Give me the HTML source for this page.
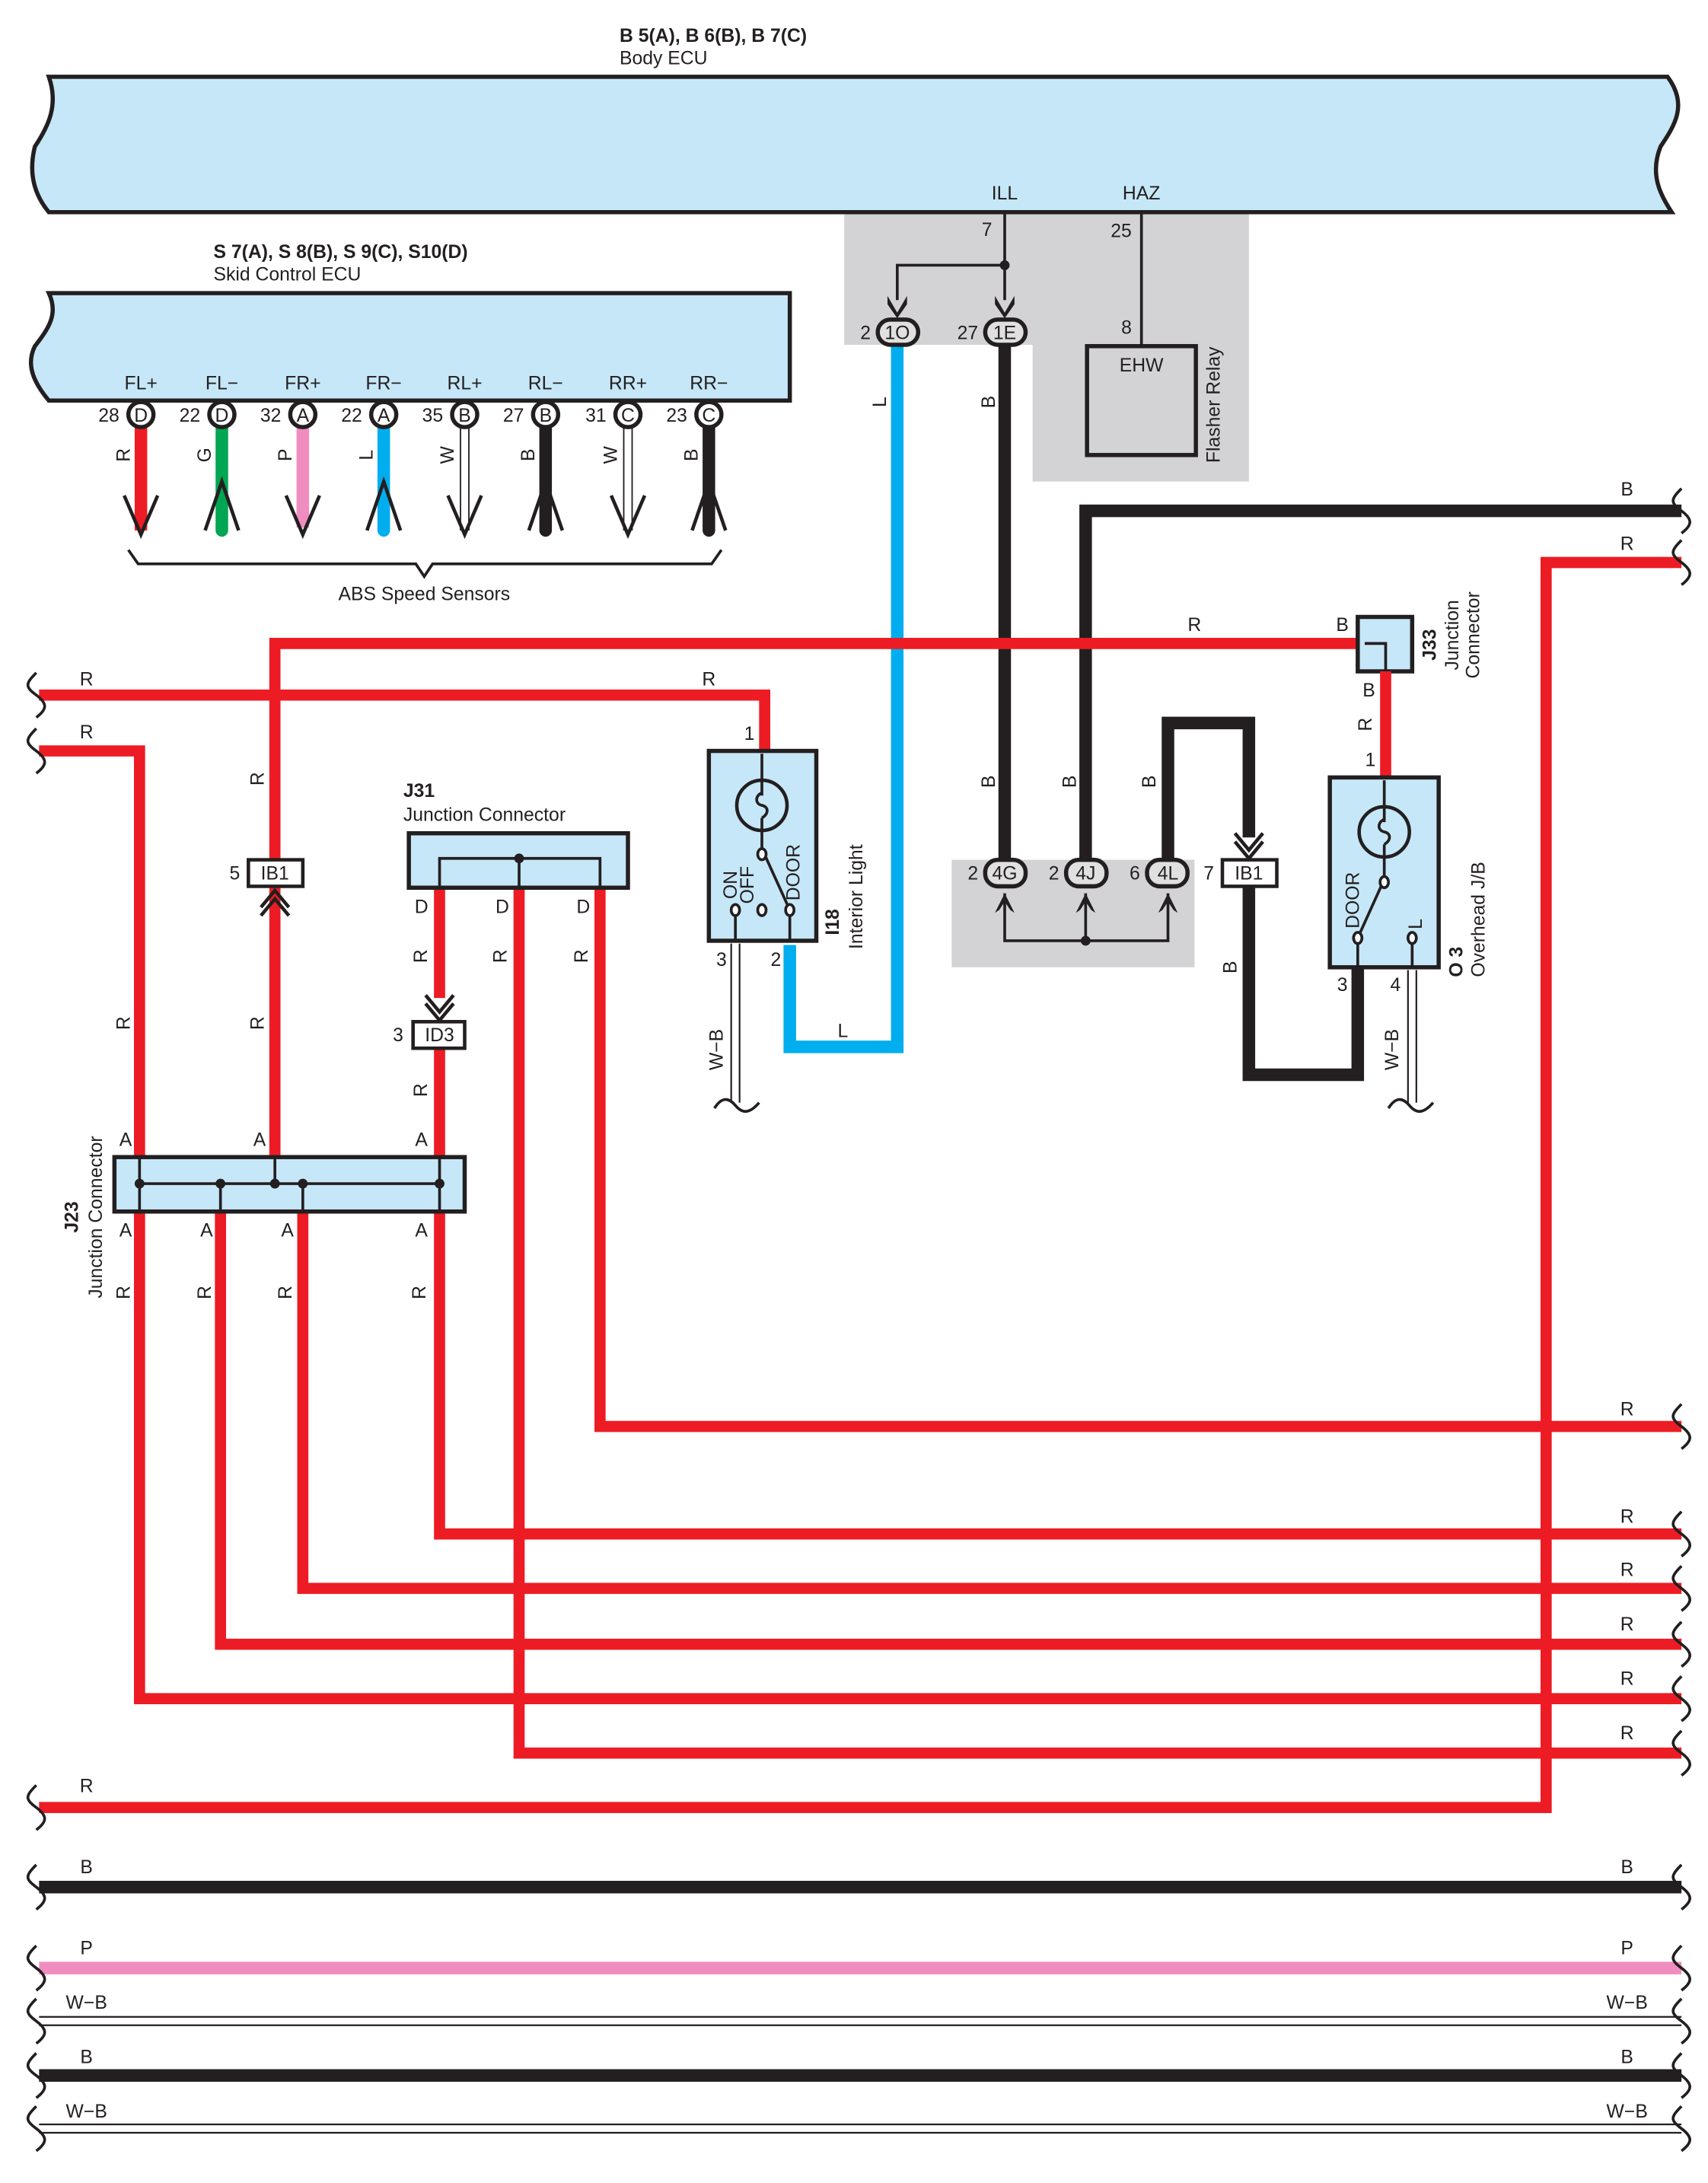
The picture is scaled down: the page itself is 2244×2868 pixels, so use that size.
<!DOCTYPE html>
<html><head><meta charset="utf-8"><style>
html,body{margin:0;padding:0;background:#fff}
svg{display:block}
text{font-family:"Liberation Sans",sans-serif;font-size:13.5px;fill:#231f20}
.b{font-weight:bold}
.r{stroke:#ed1c24;stroke-width:8;fill:none}
.k{stroke:#231f20;stroke-width:9;fill:none}
.ln{stroke:#231f20;stroke-width:2;fill:none}
</style></head><body>
<svg width="2244" height="2868" viewBox="0 0 1224 1564" preserveAspectRatio="none" xmlns="http://www.w3.org/2000/svg">
<!-- gray areas -->
<path d="M605,153 H895 V345 H740 V247 H605 Z" fill="#d3d3d5"/>
<rect x="682" y="616" width="174" height="77" fill="#d3d3d5"/>

<!-- Body ECU -->
<path d="M35,55 L1195,55 C1210,75 1200,90 1190,105 C1182,125 1190,140 1198,152 L35,152 C25,140 20,125 25,105 C35,90 42,75 35,55 Z" fill="#c6e7f8" stroke="#231f20" stroke-width="3"/>
<text x="444" y="30" class="b">B 5(A), B 6(B), B 7(C)</text>
<text x="444" y="46">Body ECU</text>
<text x="720" y="143" text-anchor="middle">ILL</text>
<text x="818" y="143" text-anchor="middle">HAZ</text>

<!-- Skid ECU -->
<path d="M35,210 L566,210 L566,287 L35,287 C25,275 18,262 25,248 C35,235 42,225 35,210 Z" fill="#c6e7f8" stroke="#231f20" stroke-width="3"/>
<text x="153" y="185" class="b">S 7(A), S 8(B), S 9(C), S10(D)</text>
<text x="153" y="201">Skid Control ECU</text>

<!-- ABS wires -->
<g>
<line x1="101" y1="305" x2="101" y2="380" stroke="#ed1c24" stroke-width="9"/>
<line x1="159" y1="305" x2="159" y2="380" stroke="#00a651" stroke-width="9" stroke-linecap="round"/>
<line x1="217" y1="305" x2="217" y2="378" stroke="#f08dbf" stroke-width="9"/>
<line x1="275" y1="305" x2="275" y2="380" stroke="#00aeef" stroke-width="9" stroke-linecap="round"/>
<line x1="330" y1="305" x2="330" y2="380" stroke="#231f20" stroke-width="1"/><line x1="336" y1="305" x2="336" y2="380" stroke="#231f20" stroke-width="1"/>
<line x1="391" y1="305" x2="391" y2="380" stroke="#231f20" stroke-width="9" stroke-linecap="round"/>
<line x1="447" y1="305" x2="447" y2="380" stroke="#231f20" stroke-width="1"/><line x1="453" y1="305" x2="453" y2="380" stroke="#231f20" stroke-width="1"/>
<line x1="508" y1="305" x2="508" y2="380" stroke="#231f20" stroke-width="9" stroke-linecap="round"/>
</g>
<g stroke="#231f20" stroke-width="2.5" fill="none">
<path d="M89,355 L101,383 L113,355"/><path d="M147,380 L159,345 L171,380"/>
<path d="M205,355 L217,383 L229,355"/><path d="M263,380 L275,345 L287,380"/>
<path d="M321,355 L333,383 L345,355"/><path d="M379,380 L391,345 L403,380"/>
<path d="M438,355 L450,383 L462,355"/><path d="M496,380 L508,345 L520,380"/>
</g>
<g fill="#fff" stroke="#231f20" stroke-width="3">
<circle cx="101" cy="297" r="9"/><circle cx="159" cy="297" r="9"/><circle cx="217" cy="297" r="9"/><circle cx="275" cy="297" r="9"/>
<circle cx="333" cy="297" r="9"/><circle cx="391" cy="297" r="9"/><circle cx="450" cy="297" r="9"/><circle cx="508" cy="297" r="9"/>
</g>
<g text-anchor="middle">
<text x="101" y="302">D</text><text x="159" y="302">D</text><text x="217" y="302">A</text><text x="275" y="302">A</text>
<text x="333" y="302">B</text><text x="391" y="302">B</text><text x="450" y="302">C</text><text x="508" y="302">C</text>
<text x="101" y="279">FL+</text><text x="159" y="279">FL−</text><text x="217" y="279">FR+</text><text x="275" y="279">FR−</text>
<text x="333" y="279">RL+</text><text x="391" y="279">RL−</text><text x="450" y="279">RR+</text><text x="508" y="279">RR−</text>
<text x="78" y="302">28</text><text x="136" y="302">22</text><text x="194" y="302">32</text><text x="252" y="302">22</text>
<text x="310" y="302">35</text><text x="368" y="302">27</text><text x="427" y="302">31</text><text x="485" y="302">23</text>
</g>
<g>
<text transform="translate(93,326) rotate(-90)" text-anchor="middle">R</text>
<text transform="translate(151,326) rotate(-90)" text-anchor="middle">G</text>
<text transform="translate(209,326) rotate(-90)" text-anchor="middle">P</text>
<text transform="translate(267,326) rotate(-90)" text-anchor="middle">L</text>
<text transform="translate(325,326) rotate(-90)" text-anchor="middle">W</text>
<text transform="translate(383,326) rotate(-90)" text-anchor="middle">B</text>
<text transform="translate(442,326) rotate(-90)" text-anchor="middle">W</text>
<text transform="translate(500,326) rotate(-90)" text-anchor="middle">B</text>
</g>
<path d="M92,394 L99,404 H298 L304,413 L310,404 H510 L517,394" class="ln"/>
<text x="304" y="430" text-anchor="middle">ABS Speed Sensors</text>

<!-- Body ECU wiring -->
<line x1="720" y1="152" x2="720" y2="215" class="ln"/>
<path d="M720,190 H643 V215" class="ln"/>
<circle cx="720" cy="190" r="3.5" fill="#231f20"/>
<path d="M636,212 L643,224 L650,212 L650,218 L643,228 L636,218Z" fill="#231f20"/>
<path d="M713,212 L720,224 L727,212 L727,218 L720,228 L713,218Z" fill="#231f20"/>
<text x="711" y="169" text-anchor="end">7</text>
<line x1="818" y1="152" x2="818" y2="248" class="ln"/>
<text x="811" y="170" text-anchor="end">25</text>
<text x="811" y="239" text-anchor="end">8</text>
<rect x="779" y="248" width="78" height="78" fill="none" stroke="#231f20" stroke-width="3"/>
<text x="818" y="266" text-anchor="middle">EHW</text>
<text transform="translate(874,290) rotate(-90)" text-anchor="middle">Flasher Relay</text>

<!-- blue L wire -->
<path d="M643,245 V750 H566 V677" stroke="#00aeef" stroke-width="9" fill="none"/>
<text transform="translate(635,288) rotate(-90)" text-anchor="middle">L</text>
<text x="604" y="743" text-anchor="middle">L</text>
<!-- black B from 1E -->
<line x1="720" y1="245" x2="720" y2="615" class="k"/>
<text transform="translate(713,288) rotate(-90)" text-anchor="middle">B</text>
<text transform="translate(713,560) rotate(-90)" text-anchor="middle">B</text>

<!-- pills 1O 1E -->
<rect x="629" y="229" width="29" height="18" rx="9" fill="#e0e0e0" stroke="#231f20" stroke-width="3"/>
<rect x="706" y="229" width="29" height="18" rx="9" fill="#e0e0e0" stroke="#231f20" stroke-width="3"/>
<text x="643" y="243" text-anchor="middle">1O</text>
<text x="720" y="243" text-anchor="middle">1E</text>
<text x="624" y="243" text-anchor="end">2</text>
<text x="701" y="243" text-anchor="end">27</text>

<!-- right B and R -->
<path d="M1205,366 H778 V615" class="k"/>
<text x="1166" y="355" text-anchor="middle">B</text>
<path d="M1205,403 H1108 V1295 H28" class="r"/>
<text x="1166" y="394" text-anchor="middle">R</text>
<text x="62" y="1284" text-anchor="middle">R</text>
<text transform="translate(771,560) rotate(-90)" text-anchor="middle">B</text>

<!-- R y461 -->
<path d="M993,461 H197 V830" class="r"/>
<text x="856" y="452" text-anchor="middle">R</text>
<rect x="973" y="442" width="39" height="39" fill="#c6e7f8" stroke="#231f20" stroke-width="3"/>
<path d="M978,461 H993 V481" class="ln"/>
<text x="962" y="452" text-anchor="middle">B</text>
<text transform="translate(1029,462) rotate(-90)" text-anchor="middle" class="b">J33</text>
<text transform="translate(1045,455) rotate(-90)" text-anchor="middle">Junction</text>
<text transform="translate(1060,455) rotate(-90)" text-anchor="middle">Connector</text>
<line x1="993" y1="481" x2="993" y2="557" class="r"/>
<text x="981" y="499" text-anchor="middle">B</text>
<text transform="translate(983,519) rotate(-90)" text-anchor="middle">R</text>
<text x="982" y="549" text-anchor="middle">1</text>

<!-- R y498 -->
<path d="M28,498 H548 V538" class="r"/>
<text x="62" y="491" text-anchor="middle">R</text>
<text x="508" y="491" text-anchor="middle">R</text>
<text x="537" y="530" text-anchor="middle">1</text>
<!-- R y538 -->
<path d="M28,538 H100 V830" class="r"/>
<text x="62" y="529" text-anchor="middle">R</text>
<text transform="translate(93,733) rotate(-90)" text-anchor="middle">R</text>

<!-- IB1 left -->
<rect x="178" y="616" width="39" height="19" fill="#fff" stroke="#231f20" stroke-width="2.5"/>
<text x="197" y="630" text-anchor="middle">IB1</text>
<text x="172" y="630" text-anchor="end">5</text>
<path d="M187,650 L197,638 L207,650 M187,656 L197,644 L207,656" stroke="#231f20" stroke-width="2.5" fill="none"/>
<text transform="translate(189,558) rotate(-90)" text-anchor="middle">R</text>
<text transform="translate(189,733) rotate(-90)" text-anchor="middle">R</text>

<!-- J31 -->
<text x="289" y="571" class="b">J31</text>
<text x="289" y="588">Junction Connector</text>
<path d="M315,636 V715" class="r"/>
<path d="M315,751 V830" class="r"/>
<path d="M372,636 V1256 H1205" class="r"/>
<path d="M430,636 V1022 H1205" class="r"/>
<rect x="293" y="597" width="157" height="39" fill="#c6e7f8" stroke="#231f20" stroke-width="3"/>
<path d="M315,636 V615 H430 V636 M372,615 V636" class="ln"/>
<circle cx="372" cy="615" r="3.5" fill="#231f20"/>
<text x="302" y="654" text-anchor="middle">D</text>
<text x="360" y="654" text-anchor="middle">D</text>
<text x="418" y="654" text-anchor="middle">D</text>
<text transform="translate(306,685) rotate(-90)" text-anchor="middle">R</text>
<text transform="translate(363,685) rotate(-90)" text-anchor="middle">R</text>
<text transform="translate(421,685) rotate(-90)" text-anchor="middle">R</text>
<path d="M305,713 L315,725 L325,713 M305,719 L315,731 L325,719" stroke="#231f20" stroke-width="2.5" fill="none"/>
<rect x="296" y="732" width="37" height="19" fill="#fff" stroke="#231f20" stroke-width="2.5"/>
<text x="315" y="746" text-anchor="middle">ID3</text>
<text x="289" y="746" text-anchor="end">3</text>
<text transform="translate(306,781) rotate(-90)" text-anchor="middle">R</text>

<!-- J23 bottom wires -->
<path d="M100,868 V1217 H1205" class="r"/>
<path d="M158,868 V1178 H1205" class="r"/>
<path d="M217,868 V1138 H1205" class="r"/>
<path d="M315,868 V1099 H1205" class="r"/>
<rect x="82" y="829" width="251" height="39" fill="#c6e7f8" stroke="#231f20" stroke-width="3"/>
<path d="M100,829 V868 M100,848 H315 M158,848 V868 M197,829 V848 M217,848 V868 M315,829 V868" class="ln"/>
<g fill="#231f20"><circle cx="100" cy="848" r="3.5"/><circle cx="158" cy="848" r="3.5"/><circle cx="197" cy="848" r="3.5"/><circle cx="217" cy="848" r="3.5"/><circle cx="315" cy="848" r="3.5"/></g>
<text x="90" y="821" text-anchor="middle">A</text><text x="186" y="821" text-anchor="middle">A</text><text x="302" y="821" text-anchor="middle">A</text>
<text x="90" y="886" text-anchor="middle">A</text><text x="148" y="886" text-anchor="middle">A</text><text x="206" y="886" text-anchor="middle">A</text><text x="302" y="886" text-anchor="middle">A</text>
<text transform="translate(56,872) rotate(-90)" text-anchor="middle" class="b">J23</text>
<text transform="translate(73,872) rotate(-90)" text-anchor="middle">Junction Connector</text>
<text transform="translate(93,926) rotate(-90)" text-anchor="middle">R</text>
<text transform="translate(151,926) rotate(-90)" text-anchor="middle">R</text>
<text transform="translate(209,926) rotate(-90)" text-anchor="middle">R</text>
<text transform="translate(305,926) rotate(-90)" text-anchor="middle">R</text>
<g text-anchor="middle">
<text x="1166" y="1014">R</text><text x="1166" y="1091">R</text><text x="1166" y="1129">R</text>
<text x="1166" y="1168">R</text><text x="1166" y="1207">R</text><text x="1166" y="1246">R</text>
</g>

<!-- Interior light I18 -->
<rect x="508" y="538" width="77" height="136" fill="#c6e7f8" stroke="#231f20" stroke-width="3"/>
<circle cx="546" cy="577" r="18" fill="none" stroke="#231f20" stroke-width="2.5"/>
<path d="M546,540 V570 M546,586 V608 L566,652 V674 M527,652 V674" class="ln"/>
<path d="M546,568 c-5,2 -5,8 0,9 c5,1 5,6 0,9" class="ln"/>
<g fill="#fff" stroke="#231f20" stroke-width="2"><ellipse cx="546" cy="612" rx="3" ry="4"/><ellipse cx="527" cy="652" rx="3" ry="4"/><ellipse cx="546" cy="652" rx="3" ry="4"/><ellipse cx="566" cy="652" rx="3" ry="4"/></g>
<text transform="translate(528,634) rotate(-90)" text-anchor="middle">ON</text>
<text transform="translate(540,634) rotate(-90)" text-anchor="middle">OFF</text>
<text transform="translate(573,625) rotate(-90)" text-anchor="middle">DOOR</text>
<text transform="translate(601,670) rotate(-90)" class="b">I18</text>
<text transform="translate(618,680) rotate(-90)">Interior Light</text>
<text x="517" y="692" text-anchor="middle">3</text>
<text x="556" y="692" text-anchor="middle">2</text>
<path d="M524,676 V790 M530,676 V790" stroke="#231f20" stroke-width="1.2"/>
<path d="M512,794 c5,-8 10,-8 15,-2 c5,6 10,6 17,-2" class="ln"/>
<text transform="translate(518,752) rotate(-90)" text-anchor="middle">W−B</text>

<!-- 4G 4J 4L -->
<path d="M837,615 V518 H895 V600" class="k"/>
<text transform="translate(828,560) rotate(-90)" text-anchor="middle">B</text>
<rect x="706" y="616" width="29" height="19" rx="9" fill="#e0e0e0" stroke="#231f20" stroke-width="3"/>
<rect x="764" y="616" width="29" height="19" rx="9" fill="#e0e0e0" stroke="#231f20" stroke-width="3"/>
<rect x="822" y="616" width="29" height="19" rx="9" fill="#e0e0e0" stroke="#231f20" stroke-width="3"/>
<text x="720" y="630" text-anchor="middle">4G</text><text x="778" y="630" text-anchor="middle">4J</text><text x="837" y="630" text-anchor="middle">4L</text>
<text x="701" y="630" text-anchor="end">2</text><text x="759" y="630" text-anchor="end">2</text><text x="817" y="630" text-anchor="end">6</text>
<g fill="#231f20">
<path d="M713,654 L720,640 L727,654 L724,652 L720,646 L716,652Z"/>
<path d="M771,654 L778,640 L785,654 L782,652 L778,646 L774,652Z"/>
<path d="M830,654 L837,640 L844,654 L841,652 L837,646 L833,652Z"/>
<circle cx="778" cy="674" r="3.5"/>
</g>
<path d="M720,640 V674 H837 V640 M778,640 V674" class="ln"/>

<!-- IB1 right -->
<path d="M885,597 L895,609 L905,597 M885,603 L895,615 L905,603" stroke="#231f20" stroke-width="2.5" fill="none"/>
<rect x="876" y="616" width="39" height="19" fill="#fff" stroke="#231f20" stroke-width="2.5"/>
<text x="895" y="630" text-anchor="middle">IB1</text>
<text x="870" y="630" text-anchor="end">7</text>
<path d="M895,635 V770 H973 V693" class="k"/>
<text transform="translate(886,693) rotate(-90)" text-anchor="middle">B</text>

<!-- O3 -->
<rect x="953" y="557" width="78" height="136" fill="#c6e7f8" stroke="#231f20" stroke-width="3"/>
<circle cx="992" cy="596" r="18" fill="none" stroke="#231f20" stroke-width="2.5"/>
<path d="M992,559 V589 M992,605 V630 L973,672 V693 M1012,672 V693" class="ln"/>
<path d="M992,587 c-5,2 -5,8 0,9 c5,1 5,6 0,9" class="ln"/>
<g fill="#fff" stroke="#231f20" stroke-width="2"><ellipse cx="992" cy="632" rx="3" ry="4"/><ellipse cx="973" cy="672" rx="3" ry="4"/><ellipse cx="1012" cy="672" rx="3" ry="4"/></g>
<text transform="translate(974,645) rotate(-90)" text-anchor="middle">DOOR</text>
<text transform="translate(1019,662) rotate(-90)" text-anchor="middle">L</text>
<text transform="translate(1048,700) rotate(-90)" class="b">O 3</text>
<text transform="translate(1064,700) rotate(-90)">Overhead J/B</text>
<text x="962" y="710" text-anchor="middle">3</text>
<text x="1000" y="710" text-anchor="middle">4</text>
<path d="M1009,695 V790 M1015,695 V790" stroke="#231f20" stroke-width="1.2"/>
<path d="M995,794 c5,-8 10,-8 15,-2 c5,6 10,6 17,-2" class="ln"/>
<text transform="translate(1002,752) rotate(-90)" text-anchor="middle">W−B</text>

<!-- bottom buses -->
<line x1="28" y1="1352" x2="1205" y2="1352" class="k"/>
<line x1="28" y1="1410" x2="1205" y2="1410" stroke="#f08dbf" stroke-width="9"/>
<path d="M28,1445 H1205 M28,1451 H1205" stroke="#231f20" stroke-width="1.2"/>
<line x1="28" y1="1487" x2="1205" y2="1487" class="k"/>
<path d="M28,1522 H1205 M28,1528 H1205" stroke="#231f20" stroke-width="1.2"/>
<g text-anchor="middle">
<text x="62" y="1342">B</text><text x="1166" y="1342">B</text>
<text x="62" y="1400">P</text><text x="1166" y="1400">P</text>
<text x="62" y="1439">W−B</text><text x="1166" y="1439">W−B</text>
<text x="62" y="1478">B</text><text x="1166" y="1478">B</text>
<text x="62" y="1517">W−B</text><text x="1166" y="1517">W−B</text>
</g>

<!-- squiggle ends -->
<g class="ln" stroke="#231f20" stroke-width="2" fill="none">
<path d="M26,482 c-8,8 -8,10 0,16 c8,6 8,10 0,16"/>
<path d="M26,522 c-8,8 -8,10 0,16 c8,6 8,10 0,16"/>
<path d="M26,1279 c-8,8 -8,10 0,16 c8,6 8,10 0,16"/>
<path d="M26,1336 c-8,8 -8,10 0,16 c8,6 8,10 0,16"/>
<path d="M26,1394 c-8,8 -8,10 0,16 c8,6 8,10 0,16"/>
<path d="M26,1432 c-8,8 -8,10 0,16 c8,6 8,10 0,16"/>
<path d="M26,1471 c-8,8 -8,10 0,16 c8,6 8,10 0,16"/>
<path d="M26,1509 c-8,8 -8,10 0,16 c8,6 8,10 0,16"/>
<path d="M1205,350 c-8,8 -8,10 0,16 c8,6 8,10 0,16"/>
<path d="M1205,387 c-8,8 -8,10 0,16 c8,6 8,10 0,16"/>
<path d="M1205,1006 c-8,8 -8,10 0,16 c8,6 8,10 0,16"/>
<path d="M1205,1083 c-8,8 -8,10 0,16 c8,6 8,10 0,16"/>
<path d="M1205,1122 c-8,8 -8,10 0,16 c8,6 8,10 0,16"/>
<path d="M1205,1162 c-8,8 -8,10 0,16 c8,6 8,10 0,16"/>
<path d="M1205,1201 c-8,8 -8,10 0,16 c8,6 8,10 0,16"/>
<path d="M1205,1240 c-8,8 -8,10 0,16 c8,6 8,10 0,16"/>
<path d="M1205,1336 c-8,8 -8,10 0,16 c8,6 8,10 0,16"/>
<path d="M1205,1394 c-8,8 -8,10 0,16 c8,6 8,10 0,16"/>
<path d="M1205,1432 c-8,8 -8,10 0,16 c8,6 8,10 0,16"/>
<path d="M1205,1471 c-8,8 -8,10 0,16 c8,6 8,10 0,16"/>
<path d="M1205,1509 c-8,8 -8,10 0,16 c8,6 8,10 0,16"/>
</g>
</svg>
</body></html>
